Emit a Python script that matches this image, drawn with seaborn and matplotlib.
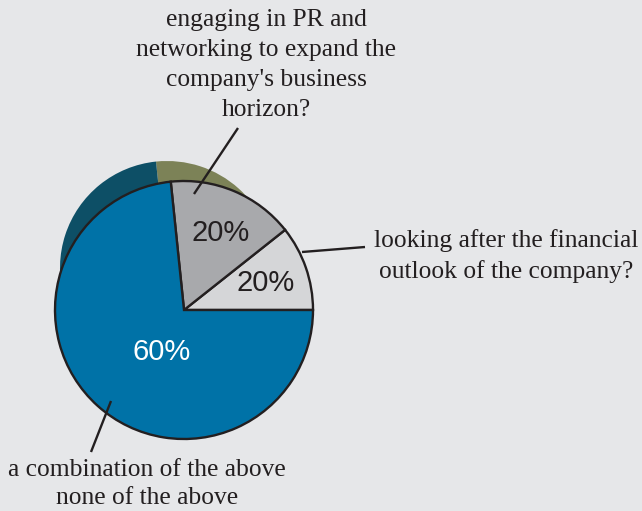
import matplotlib
matplotlib.use("Agg")
import matplotlib.pyplot as plt
import seaborn as sns

sns.set_style("white")
plt.rcParams['font.family'] = ['Liberation Serif', 'DejaVu Serif']

# Data (wedge sizes as drawn, in degrees of the circle; printed labels)
categories = [
    "looking after the financial\noutlook of the company?",
    "engaging in PR and\nnetworking to expand the\ncompany's business\nhorizon?",
    "a combination of the above\nnone of the above",
]
wedge_degrees = [38.4, 57.5, 264.1]
pct_labels = ["20%", "20%", "60%"]
shadow_degrees = [95.9, 264.1]

colors = ["#d5d6d8", "#a8a9ac", "#0072a7"]
shadow_colors = ["#7c8257", "#0d4f66"]
pct_colors = ["#231f20", "#231f20", "#ffffff"]
bg = "#e6e7e9"

W, H = 642, 511
fig = plt.figure(figsize=(W / 100, H / 100), dpi=100, facecolor=bg)
ax = fig.add_axes([0, 0, 1, 1])
ax.set_facecolor(bg)

def Y(y):
    return H - y

# shadow / depth pie
ax.pie(shadow_degrees, colors=shadow_colors, center=(167, Y(268)), radius=107,
       startangle=0, counterclock=True, frame=True,
       wedgeprops=dict(linewidth=0, edgecolor="none"))

# main pie
wedges, _ = ax.pie(wedge_degrees, colors=colors, center=(184, Y(310)), radius=129,
                   startangle=0, counterclock=True, frame=True,
                   wedgeprops=dict(linewidth=1.7, edgecolor="#231f20"))
ax.set_xlim(0, W)
ax.set_ylim(0, H)
ax.set_aspect("equal")
ax.axis("off")

# percent labels
pct_pos = [(266, 283), (221, 233), (162, 352)]
for (x, y), t, c in zip(pct_pos, pct_labels, pct_colors):
    ax.text(x, Y(y), t, ha="center", va="center", fontsize=21,
            family=["Liberation Sans", "DejaVu Sans"], color=c)

# leader lines
lines = [((302, 252), (365, 247)), ((194, 194), (238, 128)), ((111, 401), (91, 452))]
for (x0, y0), (x1, y1) in lines:
    ax.plot([x0, x1], [Y(y0), Y(y1)], color="#231f20", lw=1.7, solid_capstyle="butt")

# category labels
lab_pos = [(506, 256), (266, 65), (147, 484)]
lab_spacing = [1.42, 1.47, 1.32]
for (x, y), t, ls in zip(lab_pos, categories, lab_spacing):
    ax.text(x, Y(y), t, ha="center", va="center", fontsize=18.4,
            color="#231f20", linespacing=ls)

fig.savefig("out.png", dpi=100, facecolor=bg)
